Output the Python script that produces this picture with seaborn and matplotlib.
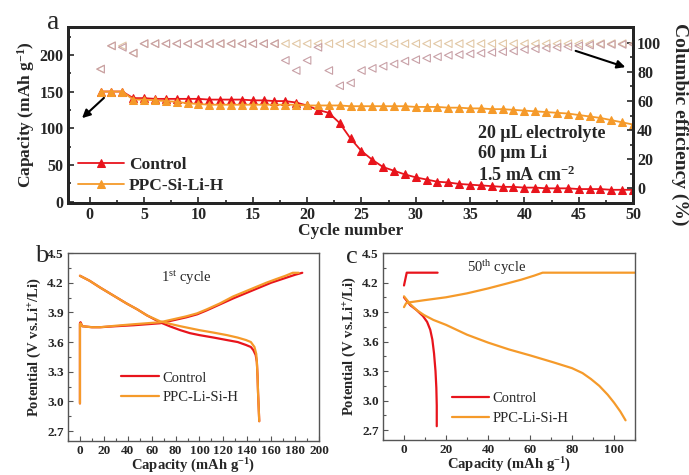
import numpy as np
import pandas as pd
import matplotlib
matplotlib.use("Agg")
import matplotlib.pyplot as plt
import seaborn as sns
from matplotlib.ticker import MultipleLocator

# ---------------- data ----------------
cycles = list(range(1, 51))
cap_control = [150, 150, 150, 141, 141, 140, 140, 140, 140, 140,
               139, 139, 139, 139, 138, 138, 137, 137, 135, 131,
               125, 121, 107, 86, 69, 57, 47, 42, 37, 33,
               30, 27, 26, 24, 23, 22, 21, 20, 20, 19,
               19, 18, 18, 18, 17, 17, 17, 16, 16, 16]
cap_ppc = [150, 150, 150, 139, 139, 138, 137, 136, 134, 133,
           132, 132, 132, 132, 132, 132, 132, 132, 132, 131,
           131, 131, 131, 130, 130, 130, 130, 130, 130, 129,
           129, 129, 128, 128, 127, 127, 126, 126, 125, 124,
           123, 122, 121, 120, 118, 116, 114, 111, 108, 105]
ce_ppc = [82, 98, 98, 93, 99.5, 99.5, 99.5, 99.5, 99.5, 99.5,
          99.5, 99.5, 99.5, 99.5, 99.5, 99.5, 99.5, 99.5, 99.5, 99.5,
          99.5, 99.5, 99.5, 99.5, 99.5, 99.5, 99.5, 99.5, 99.5, 99.5,
          99.5, 99.5, 99.5, 99.5, 99.5, 99.5, 99.5, 99.5, 99.5, 99.5,
          99.5, 99.5, 99.5, 99.5, 99.5, 99.5, 99.5, 99.5, 99.5, 99.5]
ce_control = [82, 98, 97, 93, 99.5, 99.5, 99.5, 99.5, 99.5, 99.5,
              99.5, 99.5, 99.5, 99.5, 99.5, 99.5, 99.5, 88, 81, 88,
              97, 81, 70.5, 72.5, 81, 82.5, 84, 85.5, 87.5, 88.5,
              89.5, 90.5, 91.5, 92, 92.5, 93, 93.5, 94, 94.5, 95.5,
              96, 96.5, 97, 97.5, 98, 98.5, 99, 99, 99, 99]

# panel b (1st cycle)
b_ctrl_chg_x = [0, 0, 0.5, 2, 10, 17, 30, 45, 56, 67, 78, 89, 98, 106, 117, 128, 140, 150, 160, 170, 180, 186]
b_ctrl_chg_y = [2.98, 3.79, 3.80, 3.76, 3.75, 3.75, 3.76, 3.77, 3.78, 3.79, 3.82, 3.85, 3.88, 3.92, 3.98, 4.04, 4.10, 4.15, 4.20, 4.24, 4.28, 4.30]
b_ctrl_dis_x = [0, 8, 17, 28, 39, 48, 56, 67, 75, 84, 92, 100, 112, 123, 132, 139, 143, 145, 147, 148, 148.6, 149, 149.5, 150]
b_ctrl_dis_y = [4.27, 4.22, 4.15, 4.07, 3.99, 3.93, 3.87, 3.80, 3.76, 3.72, 3.69, 3.67, 3.645, 3.62, 3.60, 3.57, 3.55, 3.52, 3.47, 3.40, 3.25, 3.09, 2.95, 2.80]
b_ppc_chg_x = [0, 0, 0.5, 2, 10, 17, 30, 45, 56, 67, 78, 89, 98, 106, 117, 128, 140, 150, 156, 165, 172, 178, 183]
b_ppc_chg_y = [2.98, 3.78, 3.79, 3.76, 3.75, 3.75, 3.765, 3.78, 3.79, 3.80, 3.83, 3.86, 3.89, 3.93, 3.99, 4.06, 4.12, 4.17, 4.20, 4.24, 4.27, 4.30, 4.30]
b_ppc_dis_x = [0, 8, 17, 28, 39, 48, 56, 67, 75, 84, 92, 100, 112, 123, 132, 139, 143, 146, 147.5, 148, 148.6, 149, 149.5, 150]
b_ppc_dis_y = [4.27, 4.22, 4.15, 4.07, 3.99, 3.93, 3.87, 3.81, 3.785, 3.76, 3.74, 3.72, 3.695, 3.67, 3.645, 3.62, 3.60, 3.55, 3.48, 3.40, 3.25, 3.09, 2.95, 2.80]

# panel c (50th cycle)
c_ctrl_chg_x = [0, 1.3, 16]
c_ctrl_chg_y = [4.17, 4.30, 4.30]
c_ctrl_dis_x = [0, 3, 6, 9, 11, 12.5, 13.5, 14.3, 15, 15.4, 15.6, 15.6]
c_ctrl_dis_y = [4.05, 3.97, 3.92, 3.86, 3.80, 3.72, 3.62, 3.48, 3.30, 3.13, 2.95, 2.74]
c_ppc_chg_x = [0, 1, 3, 9.5, 20, 30, 40, 49, 56, 62, 66, 110]
c_ppc_chg_y = [3.95, 3.99, 4.00, 4.02, 4.05, 4.09, 4.14, 4.19, 4.23, 4.27, 4.30, 4.30]
c_ppc_dis_x = [0, 3, 6, 9.5, 14, 20, 30, 40, 50, 60, 71, 80, 85, 89, 93, 97, 100, 103, 105.5]
c_ppc_dis_y = [4.06, 3.98, 3.92, 3.87, 3.82, 3.77, 3.67, 3.59, 3.52, 3.46, 3.39, 3.33, 3.28, 3.22, 3.15, 3.06, 2.98, 2.89, 2.80]

series_names = ["Control", "PPC-Si-Li-H"]
bottom_names = ["Control", "PPC-Li-Si-H"]

RED = "#e8141c"
ORANGE = "#f59a2a"
TAN = "#e2c8a6"
MAUVE = "#c8a0a6"

# ---------------- style ----------------
sns.set_theme(style="ticks")
plt.rcParams["font.family"] = ["Liberation Serif", "DejaVu Serif"]
plt.rcParams["mathtext.fontset"] = "custom"
plt.rcParams["mathtext.rm"] = "Liberation Serif"
plt.rcParams["mathtext.bf"] = "Liberation Serif:bold"
plt.rcParams["mathtext.it"] = "Liberation Serif:italic"
plt.rcParams["mathtext.default"] = "regular"

fig = plt.figure(figsize=(6.89, 4.75), dpi=100)
W, H = 689, 475

def box(l, t, r, b):
    return [l / W, 1 - b / H, (r - l) / W, (b - t) / H]

# ---------------- panel a ----------------
ax = fig.add_axes(box(68, 27, 633, 203))
df_cap = pd.DataFrame({"cycle": cycles * 2,
                       "cap": cap_control + cap_ppc,
                       "s": [series_names[0]] * 50 + [series_names[1]] * 50})
for name, col in zip(series_names, [RED, ORANGE]):
    d = df_cap[df_cap.s == name]
    sns.lineplot(data=d, x="cycle", y="cap", ax=ax, color=col, lw=1.3,
                 marker="^", markersize=5.5, markeredgecolor=col, label=name)
ax.set_xlim(-2, 50)
ax.set_ylim(-2, 238)
ax.xaxis.set_major_locator(MultipleLocator(5))
ax.xaxis.set_minor_locator(MultipleLocator(2.5))
ax.yaxis.set_major_locator(MultipleLocator(50))
ax.yaxis.set_minor_locator(MultipleLocator(25))
ax.set_xlabel("Cycle number", fontsize=12.5, fontweight="bold", labelpad=0)
ax.set_ylabel("Capacity (mAh g$^{-1}$)", fontsize=12.5, fontweight="bold", labelpad=2)
ax.tick_params(axis="both", which="both", direction="in", width=1.2)
ax.tick_params(which="major", length=4, labelsize=11.5, pad=3)
ax.tick_params(which="minor", length=2)
for lab in ax.get_xticklabels() + ax.get_yticklabels():
    lab.set_fontweight("bold")
for sp in ax.spines.values():
    sp.set_linewidth(2)
    sp.set_color("black")
leg = ax.legend(loc="lower left", bbox_to_anchor=(0.0, -0.01), frameon=False,
                prop={"weight": "bold", "size": 12.5}, handlelength=2.6,
                handletextpad=0.3, labelspacing=0.3, borderaxespad=0.2)

ax2 = ax.twinx()
df_ce = pd.DataFrame({"cycle": cycles * 2, "ce": ce_ppc + ce_control,
                      "s": ["ppc"] * 50 + ["ctrl"] * 50})
for key, col in [("ppc", TAN), ("ctrl", MAUVE)]:
    d = df_ce[df_ce.s == key]
    sns.scatterplot(data=d, x="cycle", y="ce", ax=ax2, marker="<", s=30,
                    facecolors="none", edgecolor=col, linewidth=0.8, legend=False)
ax2.set_ylim(-10.3, 111)
ax2.yaxis.set_major_locator(MultipleLocator(20))
ax2.yaxis.set_minor_locator(MultipleLocator(10))
ax2.tick_params(axis="y", which="both", direction="in", width=1.2)
ax2.tick_params(which="major", length=4, labelsize=11.5, pad=3)
ax2.tick_params(which="minor", length=2)
for lab in ax2.get_yticklabels():
    lab.set_fontweight("bold")
ax2.set_ylabel("")
ax2.set_xlabel("")
fig.text(680 / W, 1 - 124 / H, "Columbic efficiency (%)", rotation=270, fontsize=14,
         fontweight="bold", ha="center", va="center")
for sp in ax2.spines.values():
    sp.set_linewidth(2)

ax.annotate("", xy=(80 / W, 1 - 120 / H), xytext=(106 / W, 1 - 96 / H),
            xycoords="figure fraction", textcoords="figure fraction",
            arrowprops=dict(arrowstyle="-|>", color="black", lw=1.5, mutation_scale=12))
ax.annotate("", xy=(628 / W, 1 - 68 / H), xytext=(573 / W, 1 - 50 / H),
            xycoords="figure fraction", textcoords="figure fraction",
            arrowprops=dict(arrowstyle="-|>", color="black", lw=1.5, mutation_scale=12))
fig.text(478 / W, 1 - 133 / H, "20 μL electrolyte", fontsize=13, fontweight="bold",
         va="center", ha="left")
fig.text(478 / W, 1 - 154 / H, "60 μm Li", fontsize=13, fontweight="bold",
         va="center", ha="left")
fig.text(478 / W, 1 - 175 / H, "1.5 mA cm$^{-2}$", fontsize=13, fontweight="bold",
         va="center", ha="left")
fig.text(53 / W, 1 - 29 / H, "a", fontsize=20, ha="center", va="baseline")

# ---------------- panels b, c ----------------
def bottom_panel(rect, curves, xlim, xmaj, xmin, title, title_xy, leg_anchor):
    a = fig.add_axes(rect)
    for (xs, ys, col, lab) in curves:
        d = pd.DataFrame({"x": xs, "y": ys})
        sns.lineplot(data=d, x="x", y="y", ax=a, color=col, lw=1.6, sort=False,
                     estimator=None, label=lab)
    a.set_xlim(*xlim)
    a.set_ylim(2.6, 4.5)
    a.xaxis.set_major_locator(MultipleLocator(xmaj))
    a.xaxis.set_minor_locator(MultipleLocator(xmin))
    a.yaxis.set_major_locator(MultipleLocator(0.3))
    a.yaxis.set_minor_locator(MultipleLocator(0.15))
    a.yaxis.set_major_formatter(matplotlib.ticker.FormatStrFormatter("%.1f"))
    a.tick_params(axis="both", which="both", direction="in", width=0.8, color="#555555")
    a.tick_params(which="major", length=3.5, labelsize=9.5, pad=3)
    a.tick_params(which="minor", length=2)
    for lab in a.get_xticklabels() + a.get_yticklabels():
        lab.set_fontweight("bold")
    a.set_xlabel("Capacity (mAh g$^{-1}$)", fontsize=10.5, fontweight="bold", labelpad=-0.5)
    a.set_ylabel("Potential (V vs.Li$^{+}$/Li)", fontsize=10.5, fontweight="bold", labelpad=3)
    for sp in a.spines.values():
        sp.set_linewidth(1.0)
        sp.set_color("#555555")
    a.text(title_xy[0], title_xy[1], title, transform=a.transAxes, fontsize=10.5,
           ha="center", va="center")
    h, l = a.get_legend_handles_labels()
    keep = {}
    for hh, ll in zip(h, l):
        if ll not in keep:
            keep[ll] = hh
    a.legend(list(keep.values()), list(keep.keys()), loc="lower left",
             bbox_to_anchor=leg_anchor, frameon=False, fontsize=10.5,
             handlelength=2.6, handletextpad=0.2, labelspacing=0.45)
    return a

bottom_panel(box(68, 253, 319, 441),
             [(b_ctrl_chg_x, b_ctrl_chg_y, RED, bottom_names[0]),
              (b_ctrl_dis_x, b_ctrl_dis_y, RED, bottom_names[0]),
              (b_ppc_chg_x, b_ppc_chg_y, ORANGE, bottom_names[1]),
              (b_ppc_dis_x, b_ppc_dis_y, ORANGE, bottom_names[1])],
             (-10, 200), 20, 10, "1$^{st}$ cycle", (0.47, 0.87), (0.16, 0.125))
bottom_panel(box(383, 253, 635, 440),
             [(c_ctrl_chg_x, c_ctrl_chg_y, RED, bottom_names[0]),
              (c_ctrl_dis_x, c_ctrl_dis_y, RED, bottom_names[0]),
              (c_ppc_chg_x, c_ppc_chg_y, ORANGE, bottom_names[1]),
              (c_ppc_dis_x, c_ppc_dis_y, ORANGE, bottom_names[1])],
             (-10, 110), 20, 10, "50$^{th}$ cycle", (0.45, 0.92), (0.22, 0.01))
fig.text(42 / W, 1 - 256 / H, "b", fontsize=19, ha="center", va="center")
fig.text(352 / W, 1 - 257 / H, "c", fontsize=19, ha="center", va="center")

fig.savefig("out.png", dpi=100)
